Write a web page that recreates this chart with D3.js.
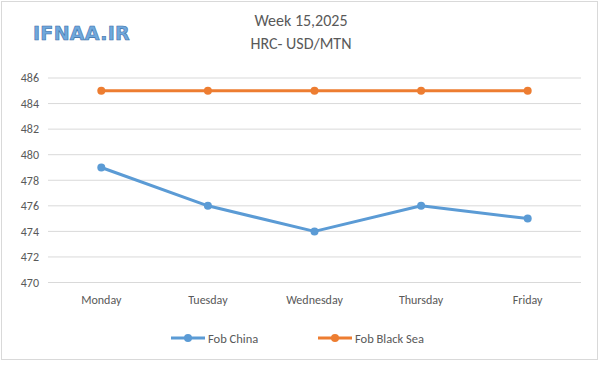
<!DOCTYPE html>
<html><head><meta charset="utf-8">
<script src="https://cdn.jsdelivr.net/npm/d3@7"></script>
<style>body{margin:0;background:#fff}svg{display:block}</style>
</head><body>
<script>
const categories = ["Monday","Tuesday","Wednesday","Thursday","Friday"];
const fobChina = [479,476,474,476,475];
const fobBlackSea = [485,485,485,485,485];
const yTicks = [470,472,474,476,478,480,482,484,486];
const seriesNames = ["Fob China","Fob Black Sea"];
const colors = ["#5B9BD5","#ED7D31"];

const W=600,H=371;
const svg=d3.select("body").append("svg").attr("width",W).attr("height",H);
svg.append("rect").attr("x",1.5).attr("y",1.5).attr("width",596).attr("height",358)
  .attr("fill","#fff").attr("stroke","#d9d9d9");

const x=d3.scaleBand().domain(categories).range([48,581]);
const y=d3.scaleLinear().domain([470,486]).range([282.5,78]);

const font="Calibri, Carlito, 'Liberation Sans', sans-serif";
const g=svg.append("g");
g.selectAll("line.grid").data(yTicks).join("line")
  .attr("x1",48).attr("x2",581).attr("y1",d=>y(d)).attr("y2",d=>y(d))
  .attr("stroke","#d9d9d9").attr("stroke-width",1);

const yAxis=d3.axisLeft(y).tickValues(yTicks).tickSize(0).tickPadding(0);
svg.append("g").attr("transform","translate(39,0)").call(yAxis)
  .call(a=>a.select(".domain").remove())
  .selectAll("text").attr("font-family",font).attr("font-size",12).attr("fill","#595959");

const xAxis=d3.axisBottom(x).tickSize(0).tickPadding(0);
svg.append("g").attr("transform","translate(0,295)").call(xAxis)
  .call(a=>a.select(".domain").remove())
  .selectAll("text").attr("font-family",font).attr("font-size",12).attr("fill","#595959");

const cx=d=>x(d)+x.bandwidth()/2;
[fobChina,fobBlackSea].forEach((vals,i)=>{
  const line=d3.line().x((d,j)=>cx(categories[j])).y(d=>y(d));
  svg.append("path").datum(vals).attr("d",line).attr("fill","none")
    .attr("stroke",colors[i]).attr("stroke-width",3).attr("stroke-linejoin","round");
  svg.selectAll(null).data(vals).join("circle")
    .attr("cx",(d,j)=>cx(categories[j])).attr("cy",d=>y(d)).attr("r",4).attr("fill",colors[i]);
});

// title
svg.append("text").attr("x",301).attr("y",26).attr("text-anchor","middle")
  .attr("font-family",font).attr("font-size",16).attr("fill","#595959").text("Week 15,2025");
svg.append("text").attr("x",301).attr("y",49).attr("text-anchor","middle")
  .attr("font-family",font).attr("font-size",16).attr("fill","#595959").text("HRC- USD/MTN");

// logo
svg.append("text").attr("x",33).attr("y",40).attr("font-family","'DejaVu Sans', sans-serif")
  .attr("font-weight","bold").attr("font-size",19).attr("fill","#6fa8dc")
  .attr("stroke","#3d6fa8").attr("stroke-width",0.6).attr("letter-spacing",0.3).text("IFNAA.IR");

// legend
const legX=[171,318];
seriesNames.forEach((n,i)=>{
  const lg=svg.append("g").attr("transform",`translate(${legX[i]},338)`);
  lg.append("line").attr("x1",0).attr("x2",34).attr("stroke",colors[i]).attr("stroke-width",3);
  lg.append("circle").attr("cx",17).attr("r",4).attr("fill",colors[i]);
  lg.append("text").attr("x",37).attr("y",4.5).attr("font-family",font).attr("font-size",12.5)
    .attr("fill","#595959").text(n);
});
</script>
</body></html>
